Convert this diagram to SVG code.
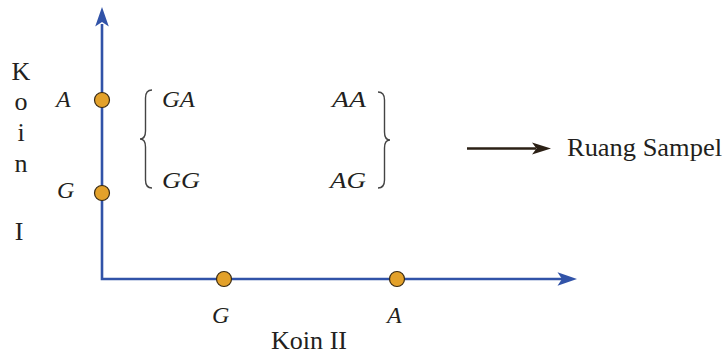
<svg xmlns="http://www.w3.org/2000/svg" width="725" height="354" viewBox="0 0 725 354">
<style>
.t{font-family:"Liberation Serif","Times New Roman",serif;font-size:26px;fill:#231f20}
.i{font-family:"Liberation Serif","Times New Roman",serif;font-size:24px;font-style:italic;fill:#231f20}
.ax{fill:none;stroke:#3153a8;stroke-width:2.6}
.dot{fill:#e3a12a;stroke:#3a2a12;stroke-width:1.2}
.br{fill:none;stroke:#444;stroke-width:1.4}
</style>
<rect width="725" height="354" fill="#fff"/>
<g id="connectors">
<polyline class="ax" points="102,24 102,279 562,279"/>
<path d="M102,7 L108.8,26.5 L102,22 L95.2,26.5 Z" fill="#3153a8"/>
<path d="M577,279 L557.5,272.2 L562,279 L557.5,285.8 Z" fill="#3153a8"/>
<line x1="467" y1="148.5" x2="536" y2="148.5" stroke="#2b2015" stroke-width="2.4"/>
<path d="M551,148.5 L532,142.5 L536.5,148.5 L532,154.5 Z" fill="#2b2015"/>
</g>
<g id="axis-labels">
<text class="t" x="21" y="80" text-anchor="middle">K</text>
<text class="t" x="21" y="110" text-anchor="middle">o</text>
<text class="t" x="21" y="141" text-anchor="middle">i</text>
<text class="t" x="21" y="172" text-anchor="middle">n</text>
<text class="t" x="19" y="240" text-anchor="middle">I</text>
<text class="t" x="271" y="349" textLength="76" lengthAdjust="spacingAndGlyphs">Koin II</text>
</g>
<g id="node-A1"><circle class="dot" cx="102" cy="100" r="7.5"/><text class="i" x="56" y="107">A</text></g>
<g id="node-G1"><circle class="dot" cx="102" cy="193" r="7.5"/><text class="i" x="57" y="198">G</text></g>
<g id="node-G2"><circle class="dot" cx="224" cy="279" r="7.5"/><text class="i" x="212" y="323">G</text></g>
<g id="node-A2"><circle class="dot" cx="397" cy="279" r="7.5"/><text class="i" x="387" y="323">A</text></g>
<g id="sample-space">
<path class="br" d="M152,90 C147,90 145.5,93 145.5,98 L145.5,131 C145.5,136 144,139 140,139 C144,139 145.5,142 145.5,147 L145.5,180 C145.5,185 147,188 152,188"/>
<path class="br" d="M378,92 C383,92 384.5,95 384.5,100 L384.5,132 C384.5,137 386,140 390,140 C386,140 384.5,143 384.5,148 L384.5,180 C384.5,185 383,188 378,188"/>
<text class="i" x="162" y="107" textLength="33" lengthAdjust="spacingAndGlyphs">GA</text>
<text class="i" x="366" y="107" text-anchor="end" textLength="34" lengthAdjust="spacingAndGlyphs">AA</text>
<text class="i" x="162" y="188" textLength="38" lengthAdjust="spacingAndGlyphs">GG</text>
<text class="i" x="366" y="188" text-anchor="end" textLength="36" lengthAdjust="spacingAndGlyphs">AG</text>
</g>
<g id="label-ruang"><text class="t" x="567" y="156" textLength="155" lengthAdjust="spacingAndGlyphs">Ruang Sampel</text></g>
</svg>
